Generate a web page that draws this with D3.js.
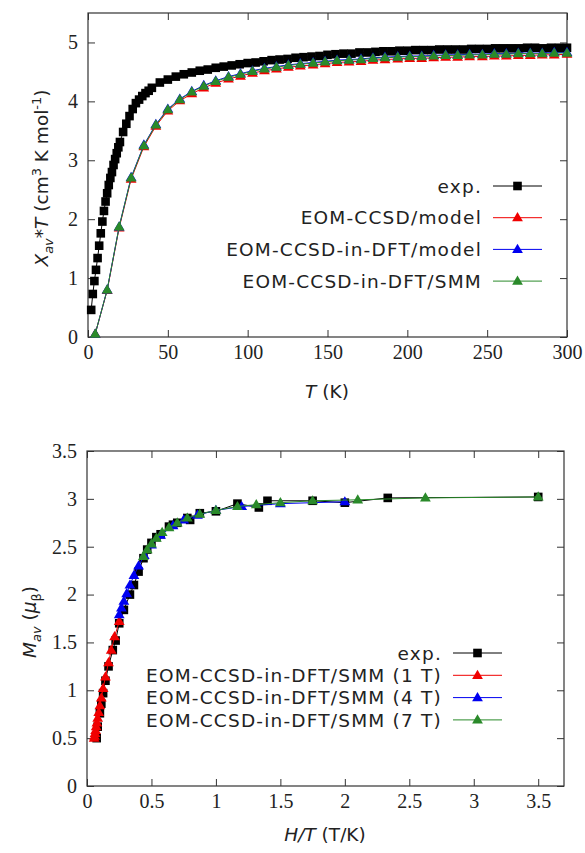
<!DOCTYPE html>
<html lang="en">
<head>
<meta charset="UTF-8">
<title>Susceptibility and magnetization</title>
<style>
  body { margin: 0; background: #fff; }
  .tick text { font-family: "Liberation Serif", serif; font-size: 20px; fill: #222; }
  .tick line { stroke: #333; }
  .title, .legend text { font-family: "DejaVu Sans", sans-serif; font-size: 18.5px; fill: #222; }
  .legend text { letter-spacing: 1.2px; }
</style>
</head>
<body>
<div id="chart"></div>
<script src="https://d3js.org/d3.v7.min.js"></script>
<script>
// ---- top panel: chi*T vs T ----
const chiExpT = [2,3,4,5,6,7,8,9,10,11,12,13,14,15,16,17,18,19,20,22,24,26,28,30,32,34,36,38,
    40,45,50,55,60,65,70,75,80,85,90,95,100,105,110,115,120,125,130,135,140,145,150,
    155,160,165,170,175,180,185,190,195,200,205,210,215,220,225,230,235,240,245,250,
    255,260,265,270,275,280,285,290,295,300];
const chiExp = [0.46,0.73,0.95,1.14,1.34,1.55,1.76,1.96,2.14,2.3,2.44,2.58,2.7,2.8,2.92,3.02,3.12,3.22,3.31,
    3.48,3.62,3.75,3.87,3.97,4.03,4.09,4.14,4.18,
    4.23,4.32,4.37,4.42,4.46,4.49,4.52,4.54,4.57,4.59,4.61,4.63,4.65,
    4.66,4.68,4.7,4.71,4.72,4.74,4.75,4.76,4.77,4.79,
    4.8,4.81,4.81,4.83,4.83,4.84,4.85,4.85,4.86,4.86,
    4.87,4.87,4.87,4.88,4.88,4.88,4.88,4.89,4.89,4.89,
    4.9,4.9,4.9,4.9,4.91,4.91,4.9,4.91,4.91,4.91];

const chiModelT = [4.5,12,19.5,27,35,42.5,50,57.5,65,72.5,80,88,95.5,103,110.5,118,125.5,133,141,148.5,156,163.5,171,178.5,186,194,201.5,209,216.5,224,231.5,239,247,254.5,262,269.5,277,284.5,292,300];
const chiCCSD = [0.05,0.79,1.85,2.68,3.23,3.58,3.84,4.01,4.13,4.23,4.31,4.38,4.43,4.48,4.52,4.55,4.58,4.6,4.62,4.64,4.66,4.67,4.68,4.7,4.71,4.72,4.73,4.73,4.74,4.75,4.75,4.76,4.76,4.77,4.77,4.78,4.78,4.79,4.79,4.8];
const chiInDFT = [0.05,0.8,1.87,2.71,3.26,3.61,3.87,4.04,4.17,4.27,4.35,4.42,4.47,4.52,4.56,4.59,4.62,4.64,4.66,4.68,4.7,4.71,4.72,4.74,4.75,4.76,4.77,4.77,4.78,4.79,4.79,4.8,4.8,4.81,4.81,4.82,4.82,4.82,4.83,4.83];
const chiSMM = [0.05,0.8,1.87,2.7,3.25,3.6,3.86,4.03,4.16,4.26,4.34,4.41,4.46,4.51,4.55,4.58,4.61,4.63,4.65,4.67,4.69,4.7,4.71,4.73,4.74,4.75,4.76,4.76,4.77,4.78,4.78,4.79,4.79,4.8,4.8,4.81,4.81,4.81,4.82,4.82];

const chiXTicks = [0,50,100,150,200,250,300];
const chiYTicks = [0,1,2,3,4,5];

// ---- bottom panel: M vs H/T ----
const magExpHT = [0.075,0.083,0.1,0.111,0.125,0.143,0.167,0.2,0.222,0.25,0.286,0.333,0.364,0.4,0.438,0.467,0.5,0.538,0.571,0.636,0.667,0.7,0.778,0.8,0.875,1.0,1.167,1.333,1.4,1.75,2.0,2.333,3.5];
const magExpM = [0.5,0.62,0.76,0.86,0.97,1.1,1.25,1.42,1.52,1.7,1.84,2.0,2.1,2.24,2.38,2.47,2.54,2.6,2.63,2.71,2.73,2.75,2.8,2.78,2.85,2.87,2.95,2.91,2.98,2.98,2.96,3.01,3.02];

const mag1THT = [0.25,0.214,0.188,0.167,0.143,0.125,0.111,0.1,0.091,0.083,0.077,0.071,0.067,0.0625,0.0588,0.0556];
const mag1TM = [1.72,1.56,1.42,1.29,1.14,1.02,0.92,0.84,0.77,0.71,0.66,0.62,0.58,0.55,0.52,0.5];
const mag4THT = [2.0,1.5,1.2,1.0,0.857,0.75,0.667,0.571,0.5,0.444,0.4,0.364,0.333,0.308,0.286,0.267,0.25];
const mag4TM = [2.97,2.95,2.92,2.88,2.83,2.78,2.72,2.62,2.52,2.41,2.3,2.2,2.1,2.01,1.93,1.86,1.79];
const mag7THT = [3.5,2.625,2.1,1.75,1.5,1.313,1.167,1.0,0.875,0.778,0.7,0.636,0.583,0.538,0.5,0.467,0.4375];
const mag7TM = [3.02,3.01,2.99,2.98,2.96,2.94,2.92,2.88,2.84,2.8,2.75,2.7,2.65,2.59,2.53,2.47,2.4];

const magXTicks = [0,0.5,1,1.5,2,2.5,3,3.5];
const magYTicks = [0,0.5,1,1.5,2,2.5,3,3.5];

const RED = "#f00000", BLUE = "#0000f0", GREEN = "#2a8a2a";

const svg = d3.select("#chart").append("svg")
    .attr("width", 585)
    .attr("height", 853);

function zip(xs, ys) { return xs.map((v, i) => [v, ys[i]]); }

function marker(g, type, color, px, py) {
    if (type === "square") {
        g.append("rect").attr("x", px - 4.3).attr("y", py - 4.3)
         .attr("width", 8.6).attr("height", 8.6).attr("fill", color);
    } else {
        g.append("path")
         .attr("d", `M${px},${py - 5.6}L${px + 5.4},${py + 3.6}L${px - 5.4},${py + 3.6}Z`)
         .attr("fill", color);
    }
}

function drawPanel(p) {
    const x = d3.scaleLinear().domain(p.xDomain).range([p.left, p.right]);
    const y = d3.scaleLinear().domain(p.yDomain).range([p.bottom, p.top]);
    const g = svg.append("g");

    // axes, inward ticks on all four sides
    const fmt = d => String(d);
    g.append("g").attr("transform", `translate(0,${p.bottom})`)
     .call(d3.axisBottom(x).tickValues(p.xTicks).tickFormat(fmt).tickSize(-7).tickPadding(8));
    g.append("g").attr("transform", `translate(0,${p.top})`)
     .call(d3.axisTop(x).tickValues(p.xTicks).tickFormat("").tickSize(-7));
    g.append("g").attr("transform", `translate(${p.left},0)`)
     .call(d3.axisLeft(y).tickValues(p.yTicks).tickFormat(fmt).tickSize(-7).tickPadding(10));
    g.append("g").attr("transform", `translate(${p.right},0)`)
     .call(d3.axisRight(y).tickValues(p.yTicks).tickFormat("").tickSize(-7));
    g.selectAll(".domain").remove();

    g.append("rect")
     .attr("x", p.left).attr("y", p.top)
     .attr("width", p.right - p.left).attr("height", p.bottom - p.top)
     .attr("fill", "none").attr("stroke", "#333").attr("stroke-width", 1.2);

    const line = d3.line().x(d => x(d[0])).y(d => y(d[1]));
    p.series.forEach(s => {
        const pts = zip(s.xs, s.ys);
        g.append("path").datum(pts).attr("d", line)
         .attr("fill", "none").attr("stroke", s.color).attr("stroke-width", 1);
        const mg = g.append("g");
        pts.forEach(d => marker(mg, s.type, s.color, x(d[0]), y(d[1])));
    });

    // legend
    const lg = g.append("g").attr("class", "legend");
    p.series.forEach((s, i) => {
        const ly = p.legend.y0 + i * p.legend.dy;
        lg.append("text").attr("x", p.legend.textRight).attr("y", ly)
          .attr("dy", "0.36em").attr("text-anchor", "end").text(s.label);
        lg.append("line").attr("x1", p.legend.x0).attr("x2", p.legend.x1)
          .attr("y1", ly).attr("y2", ly).attr("stroke", s.color).attr("stroke-width", 1);
        marker(lg, s.type, s.color, (p.legend.x0 + p.legend.x1) / 2, ly);
    });
    return g;
}

drawPanel({
    left: 88, right: 567, top: 13, bottom: 337,
    xDomain: [0, 300], yDomain: [0, 5.5],
    xTicks: chiXTicks, yTicks: chiYTicks,
    series: [
        { label: "exp.", xs: chiExpT, ys: chiExp, color: "#000", type: "square" },
        { label: "EOM-CCSD/model", xs: chiModelT, ys: chiCCSD, color: RED, type: "tri" },
        { label: "EOM-CCSD-in-DFT/model", xs: chiModelT, ys: chiInDFT, color: BLUE, type: "tri" },
        { label: "EOM-CCSD-in-DFT/SMM", xs: chiModelT, ys: chiSMM, color: GREEN, type: "tri" }
    ],
    legend: { y0: 186, dy: 31.7, textRight: 482, x0: 493, x1: 542 }
});

drawPanel({
    left: 87, right: 564, top: 451, bottom: 786,
    xDomain: [0, 3.7], yDomain: [0, 3.5],
    xTicks: magXTicks, yTicks: magYTicks,
    series: [
        { label: "exp.", xs: magExpHT, ys: magExpM, color: "#000", type: "square" },
        { label: "EOM-CCSD-in-DFT/SMM (1 T)", xs: mag1THT, ys: mag1TM, color: RED, type: "tri" },
        { label: "EOM-CCSD-in-DFT/SMM (4 T)", xs: mag4THT, ys: mag4TM, color: BLUE, type: "tri" },
        { label: "EOM-CCSD-in-DFT/SMM (7 T)", xs: mag7THT, ys: mag7TM, color: GREEN, type: "tri" }
    ],
    legend: { y0: 653, dy: 22.3, textRight: 442, x0: 453, x1: 502 }
});

// axis titles
const t1 = svg.append("text").attr("class", "title").attr("text-anchor", "middle")
    .attr("x", 327).attr("y", 398);
t1.append("tspan").attr("font-style", "italic").text("T");
t1.append("tspan").text(" (K)");

const t2 = svg.append("text").attr("class", "title").attr("text-anchor", "middle")
    .attr("x", 325).attr("y", 841);
t2.append("tspan").attr("font-style", "italic").text("H/T");
t2.append("tspan").text(" (T/K)");

const y1 = svg.append("text").attr("class", "title").attr("text-anchor", "middle")
    .attr("transform", "translate(48,178) rotate(-90)");
y1.append("tspan").attr("font-style", "italic").text("X");
y1.append("tspan").attr("font-style", "italic").attr("font-size", "13px").attr("dy", 5).text("av");
y1.append("tspan").attr("dy", -5).text("*");
y1.append("tspan").attr("font-style", "italic").text("T");
y1.append("tspan").text(" (cm");
y1.append("tspan").attr("font-size", "13px").attr("dy", -7).text("3");
y1.append("tspan").attr("dy", 7).text(" K mol");
y1.append("tspan").attr("font-size", "13px").attr("dy", -7).text("-1");
y1.append("tspan").attr("dy", 7).text(")");

const y2 = svg.append("text").attr("class", "title").attr("text-anchor", "middle")
    .attr("transform", "translate(36,622) rotate(-90)");
y2.append("tspan").attr("font-style", "italic").text("M");
y2.append("tspan").attr("font-style", "italic").attr("font-size", "13px").attr("dy", 5).text("av");
y2.append("tspan").attr("dy", -5).text(" (");
y2.append("tspan").attr("font-style", "italic").text("μ");
y2.append("tspan").attr("font-size", "13px").attr("dy", 5).text("β");
y2.append("tspan").attr("dy", -5).text(")");
</script>
</body>
</html>
